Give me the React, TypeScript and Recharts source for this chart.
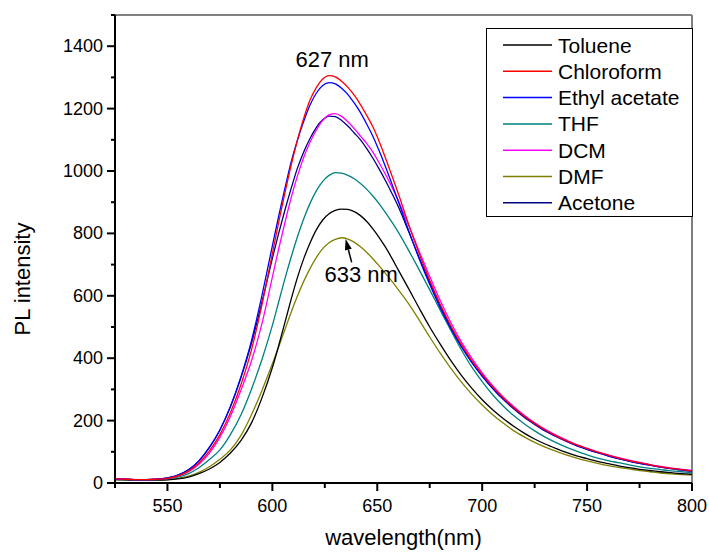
import React from 'react';
import { LineChart, Line, XAxis, YAxis, ReferenceLine, ReferenceDot } from 'recharts';

const FONT = '"Liberation Sans", Arial, sans-serif';

// wavelength (nm); finer steps around the emission maxima
const WAVELENGTHS = [
  525, 530, 535, 540, 545, 550, 555, 560, 565, 570, 575, 580, 585, 590, 595,
  600, 603, 606, 609, 612, 615, 618, 621, 624, 627, 630, 633, 636, 639, 642, 645, 648, 651, 654, 657, 660,
  665, 670, 675, 680, 685, 690, 695, 700, 705, 710, 715, 720, 725, 730, 735, 740, 745, 750, 755, 760, 765, 770,
  775, 780, 785, 790, 795, 800,
];

const TOLUENE = [
  11, 10, 9, 9, 9, 10, 13, 19, 30, 45, 66, 96, 136, 192, 272,
  370, 440, 515, 590, 660, 720, 770, 812, 843, 863, 874, 878, 877, 870, 857, 838, 814, 786, 755, 720, 683,
  622, 560, 500, 445, 393, 346, 304, 267, 235, 207, 182, 160, 141, 125, 111, 98, 87, 78, 69, 62, 55, 49,
  44, 40, 36, 33, 30, 28,
];
const CHLOROFORM = [
  14, 12, 11, 11, 12, 15, 23, 38, 64, 103, 155, 225, 315, 426, 570,
  735, 835, 930, 1020, 1100, 1170, 1228, 1268, 1295, 1306, 1302, 1288, 1268, 1243, 1213, 1178, 1140, 1093, 1040, 985, 928,
  828, 735, 650, 573, 505, 445, 393, 348, 308, 273, 242, 215, 191, 170, 152, 136, 122, 110, 99, 89, 80, 72,
  65, 58, 52, 47, 43, 39,
];
const ETHYL_ACETATE = [
  14, 12, 11, 11, 12, 16, 25, 42, 71, 114, 170, 245, 340, 455, 600,
  760, 855, 945, 1030, 1100, 1160, 1212, 1250, 1274, 1283, 1279, 1265, 1245, 1218, 1187, 1150, 1110, 1063, 1012, 958, 903,
  808, 718, 636, 562, 496, 438, 387, 343, 304, 270, 240, 213, 189, 168, 150, 134, 120, 108, 97, 87, 78, 70,
  63, 57, 51, 46, 42, 38,
];
const THF = [
  12, 11, 10, 10, 11, 13, 19, 30, 49, 75, 106, 155, 218, 300, 395,
  505, 580, 655, 725, 790, 848, 897, 937, 967, 986, 995, 993, 986, 975, 960, 941, 919, 894, 866, 836, 804,
  745, 683, 619, 554, 490, 428, 372, 325, 283, 247, 216, 190, 167, 147, 130, 115, 102, 90, 80, 72, 65, 58,
  52, 47, 43, 39, 36, 33,
];
const DCM = [
  13, 12, 11, 11, 12, 15, 22, 36, 60, 96, 146, 213, 297, 390, 510,
  660, 750, 835, 915, 985, 1045, 1093, 1132, 1162, 1180, 1184, 1175, 1158, 1136, 1112, 1088, 1060, 1025, 988, 948, 905,
  825, 742, 662, 585, 515, 453, 400, 353, 312, 276, 245, 217, 193, 172, 154, 138, 123, 111, 100, 90, 81, 73,
  66, 59, 53, 48, 44, 40,
];
const DMF = [
  11, 10, 9, 9, 10, 11, 15, 22, 34, 52, 76, 106, 152, 218, 296,
  382, 436, 492, 548, 600, 647, 688, 723, 751, 770, 781, 786, 782, 772, 757, 739, 718, 695, 671, 646, 620,
  574, 522, 468, 416, 368, 324, 285, 250, 219, 192, 168, 148, 130, 115, 102, 90, 80, 71, 63, 56, 50, 45,
  40, 36, 32, 29, 27, 25,
];
const ACETONE = [
  13, 12, 11, 11, 12, 16, 25, 42, 71, 114, 170, 244, 337, 447, 578,
  720, 800, 875, 945, 1010, 1062, 1105, 1140, 1164, 1176, 1174, 1162, 1144, 1122, 1100, 1072, 1040, 1005, 968, 928, 886,
  805, 722, 643, 568, 500, 440, 388, 343, 303, 268, 238, 211, 188, 167, 150, 134, 120, 108, 97, 87, 78, 70,
  63, 57, 51, 46, 42, 38,
];

const SERIES = [
  { name: 'Toluene', values: TOLUENE, color: '#000000' },
  { name: 'Chloroform', values: CHLOROFORM, color: '#ff0000' },
  { name: 'Ethyl acetate', values: ETHYL_ACETATE, color: '#0000ff' },
  { name: 'THF', values: THF, color: '#008080' },
  { name: 'DCM', values: DCM, color: '#ff00ff' },
  { name: 'DMF', values: DMF, color: '#808000' },
  { name: 'Acetone', values: ACETONE, color: '#000080' },
];
// drawing order (last on top)
const DRAW_ORDER = ['DMF', 'Toluene', 'THF', 'Acetone', 'DCM', 'Ethyl acetate', 'Chloroform'];

const X_TICKS = [525, 550, 575, 600, 625, 650, 675, 700, 725, 750, 775, 800];
const Y_TICKS = [0, 100, 200, 300, 400, 500, 600, 700, 800, 900, 1000, 1100, 1200, 1300, 1400, 1500];

const chartData = WAVELENGTHS.map((wl, i) => {
  const row: Record<string, number> = { wl };
  for (const s of SERIES) row[s.name] = s.values[i];
  return row;
});

function XTick({ x, y, payload }: any) {
  const v = payload.value;
  const major = v % 50 === 0;
  return (
    <g>
      <line x1={x} x2={x} y1={y} y2={y + (major ? 8 : 5)} stroke="#000" strokeWidth={2} />
      {major && (
        <text x={x} y={y + 29} textAnchor="middle" fontSize={18} fontFamily={FONT} fill="#000">
          {v}
        </text>
      )}
    </g>
  );
}

function YTick({ x, y, payload }: any) {
  const v = payload.value;
  const major = v % 200 === 0 && v <= 1400;
  return (
    <g>
      <line x1={x - (major ? 8 : 4)} x2={x} y1={y} y2={y} stroke="#000" strokeWidth={2} />
      {major && (
        <text x={x - 12} y={y + 6} textAnchor="end" fontSize={18} fontFamily={FONT} fill="#000">
          {v}
        </text>
      )}
    </g>
  );
}

function Arrow(props: any) {
  const { x1, y1, x2, y2 } = props;
  const dx = x2 - x1;
  const dy = y2 - y1;
  const len = Math.sqrt(dx * dx + dy * dy) || 1;
  const ux = dx / len;
  const uy = dy / len;
  const head = 11;
  const half = 3.5;
  const bx = x2 - ux * head;
  const by = y2 - uy * head;
  return (
    <g>
      <line x1={x1} y1={y1} x2={bx} y2={by} stroke="#000" strokeWidth={1.5} />
      <polygon
        points={`${x2},${y2} ${bx - uy * half},${by + ux * half} ${bx + uy * half},${by - ux * half}`}
        fill="#000"
      />
    </g>
  );
}

function textShape(label: string) {
  return (p: any) => (
    <text x={p.cx} y={p.cy} textAnchor="middle" fontSize={22} fontFamily={FONT} fill="#000">
      {label}
    </text>
  );
}

function LegendBox() {
  return (
    <svg width={207} height={189} style={{ position: 'absolute', left: 486, top: 28 }}>
      <rect x={0.5} y={0.5} width={206} height={188} fill="#fff" stroke="#000" strokeWidth={1} />
      {SERIES.map((s, i) => {
        const cy = 17 + i * 26.3;
        return (
          <g key={s.name}>
            <line x1={17} x2={66} y1={cy} y2={cy} stroke={s.color} strokeWidth={1.5} />
            <text x={72} y={cy + 7.5} fontSize={21} fontFamily={FONT} fill="#000">
              {s.name}
            </text>
          </g>
        );
      })}
    </svg>
  );
}

export default function App() {
  const ordered = DRAW_ORDER.map((n) => SERIES.find((s) => s.name === n)!);
  return (
    <div style={{ position: 'absolute', left: 0, top: 0, width: 709, height: 554, background: '#fff' }}>
      <LineChart width={709} height={554} data={chartData} margin={{ top: 15, right: 17, left: 0, bottom: 0 }}>
        <XAxis
          dataKey="wl"
          type="number"
          domain={[525, 800]}
          ticks={X_TICKS}
          interval={0}
          height={71}
          tickSize={0}
          tickMargin={0}
          tickLine={false}
          tick={<XTick />}
          axisLine={{ stroke: '#000', strokeWidth: 2 }}
          label={{
            value: 'wavelength(nm)',
            position: 'insideBottom',
            offset: 9,
            fontSize: 22,
            fill: '#000',
            fontFamily: FONT,
          }}
        />
        <YAxis
          type="number"
          domain={[0, 1500]}
          ticks={Y_TICKS}
          interval={0}
          width={115}
          tickSize={0}
          tickMargin={0}
          tickLine={false}
          tick={<YTick />}
          axisLine={{ stroke: '#000', strokeWidth: 2 }}
          label={{
            content: () => (
              <text
                x={30}
                y={279}
                transform="rotate(-90 30 279)"
                textAnchor="middle"
                fontSize={22}
                fontFamily={FONT}
                fill="#000"
              >
                PL intensity
              </text>
            ),
          }}
        />
        <ReferenceLine y={1500} stroke="#808080" strokeWidth={2} />
        <ReferenceLine x={800} stroke="#808080" strokeWidth={2} />
        {ordered.map((s) => (
          <Line
            key={s.name}
            type="monotone"
            dataKey={s.name}
            stroke={s.color}
            strokeWidth={1.3}
            dot={false}
            activeDot={false}
            isAnimationActive={false}
          />
        ))}
        <ReferenceDot x={628.5} y={1333} r={0} shape={textShape('627 nm')} />
        <ReferenceDot x={642.3} y={644} r={0} shape={textShape('633 nm')} />
        <ReferenceLine
          segment={[
            { x: 637.8, y: 707 },
            { x: 634.9, y: 782 },
          ]}
          shape={Arrow}
        />
      </LineChart>
      <LegendBox />
    </div>
  );
}
